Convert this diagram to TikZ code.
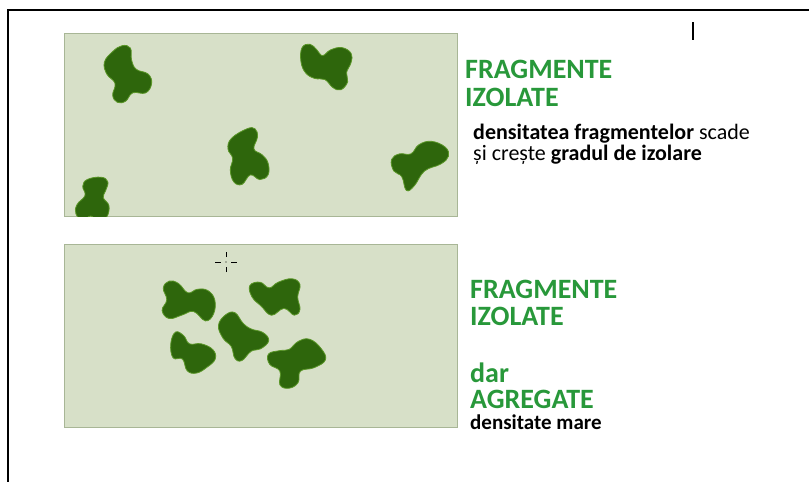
\documentclass[tikz,border=0pt]{standalone}
\usepackage{fontspec}
\setmainfont{Carlito}
\definecolor{bg}{RGB}{215,224,200}
\definecolor{bgedge}{RGB}{168,182,150}
\definecolor{blob}{RGB}{46,102,12}
\definecolor{blobedge}{RGB}{90,150,40}
\definecolor{txtgreen}{RGB}{40,152,58}
\tikzset{
  field/.style={fill=bg,draw=bgedge,line width=1.2pt},
  patch/.style={fill=blob,draw=blobedge,line width=0.8pt},
  bigtxt/.style={anchor=base west,inner sep=0pt,text depth=0pt,text=txtgreen,font=\fontsize{28}{28}\selectfont\bfseries},
  smalltxt/.style={anchor=base west,inner sep=0pt,text depth=0pt,text=black,font=\fontsize{22}{22}\selectfont},
  frame/.style={line width=1.5pt,black}
}
\begin{document}
\begin{tikzpicture}[x=1pt,y=-1pt]
\useasboundingbox (0,0) rectangle (809,482);
% frame
\coordinate (f1) at (8,482);
\coordinate (f2) at (8,10);
\coordinate (f3) at (809,10);
\draw[frame] (f1) -- (f2) -- (f3);
\coordinate (c1) at (693,22);
\coordinate (c2) at (693,40);
\draw[line width=1.2pt] (c1) -- (c2);
% fields
\node[field,minimum width=393pt,minimum height=183pt,inner sep=0pt,anchor=north west] (top) at (64,33) {};
\node[field,minimum width=393pt,minimum height=183pt,inner sep=0pt,anchor=north west] (bot) at (64,244) {};
% top patches
\begin{scope}
\clip (64,33) rectangle (457,216);
\draw[patch,scale around={1.18:(128,74)}] plot[smooth cycle,tension=0.7] coordinates {(123,50)(130,52)(131,62)(135,70)(145,74)(148,82)(143,90)(132,90)(126,97)(119,98)(115,92)(117,82)(110,74)(108,64)(115,55)};
\draw[patch,scale around={1.14:(326,67)}] plot[smooth cycle,tension=0.7] coordinates {(305,50)(312,47)(318,52)(323,57)(330,52)(340,50)(348,55)(348,63)(344,72)(345,80)(339,87)(332,85)(325,78)(316,77)(308,72)(304,62)};
\draw[patch,scale around={1.18:(248,156)}] plot[smooth cycle,tension=0.7] coordinates {(247,133)(254,133)(256,140)(253,150)(260,155)(265,162)(265,172)(258,176)(250,172)(243,180)(236,178)(233,168)(235,158)(231,150)(234,141)};
\draw[patch,scale around={1.14:(420,163)}] plot[smooth cycle,tension=0.7] coordinates {(395,160)(402,155)(412,155)(419,147)(430,144)(442,149)(445,157)(438,164)(424,170)(415,183)(408,187)(404,175)(397,170)};
\draw[patch,scale around={1.14:(93,200)}] plot[smooth cycle,tension=0.7] coordinates {(88,182)(100,180)(106,184)(104,192)(102,198)(107,205)(105,215)(98,219)(91,214)(84,218)(78,212)(79,204)(86,196)(84,188)};
\end{scope}
% bottom patches
\draw[patch,scale around={1.17:(189,301)}] plot[smooth cycle,tension=0.7] coordinates {(172,284)(180,286)(188,294)(196,291)(205,292)(211,300)(210,312)(203,318)(193,310)(183,313)(172,316)(166,309)(170,300)(167,290)};
\draw[patch,scale around={1.14:(276,297)}] plot[smooth cycle,tension=0.7] coordinates {(253,287)(262,284)(270,289)(278,284)(290,281)(297,286)(295,297)(297,308)(292,313)(283,307)(272,313)(263,305)(255,297)};
\draw[patch,scale around={1.17:(243,336)}] plot[smooth cycle,tension=0.7] coordinates {(228,318)(236,316)(243,325)(250,330)(260,333)(265,340)(258,347)(250,349)(242,357)(236,355)(233,345)(226,338)(222,327)};
\draw[patch,scale around={1.17:(193,352)}] plot[smooth cycle,tension=0.7] coordinates {(178,335)(185,338)(190,345)(200,345)(210,350)(212,358)(205,365)(196,370)(188,368)(184,358)(176,357)(174,345)};
\draw[patch,scale around={1.14:(297,362)}] plot[smooth cycle,tension=0.7] coordinates {(272,355)(282,352)(290,351)(298,344)(308,342)(318,350)(322,360)(312,367)(300,370)(298,380)(290,385)(282,382)(282,370)(273,364)};
% crosshair
\coordinate (x0) at (226,262);
\draw[line width=0.8pt] ([yshift=-10pt]x0) -- ([yshift=-5pt]x0) ([yshift=5pt]x0) -- ([yshift=10pt]x0)
  ([xshift=-11pt]x0) -- ([xshift=-5pt]x0) ([xshift=5pt]x0) -- ([xshift=11pt]x0);
\fill (x0) circle (0.6pt);
% texts
\node[bigtxt] (t1) at (465,78) {FRAGMENTE};
\node[bigtxt] (t2) at (465,106) {IZOLATE};
\node[smalltxt] (t3) at (473,139) {\textbf{densitatea fragmentelor} scade};
\node[smalltxt] (t4) at (473,160) {și crește \textbf{gradul de izolare}};
\node[bigtxt] (b1) at (470,298) {FRAGMENTE};
\node[bigtxt] (b2) at (470,325) {IZOLATE};
\node[bigtxt] (b3) at (470,382) {dar};
\node[bigtxt] (b4) at (470,408) {AGREGATE};
\node[smalltxt,font=\fontsize{21}{21}\selectfont\bfseries] (b5) at (470,429) {densitate mare};
\end{tikzpicture}
\end{document}
